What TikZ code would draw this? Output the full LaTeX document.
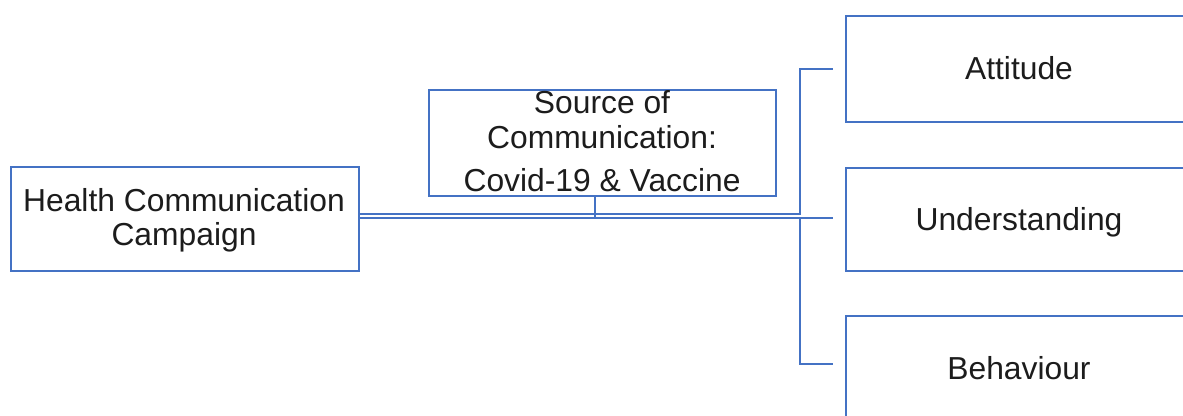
\documentclass[tikz,border=0pt]{standalone}
\usepackage{fontspec}
\setmainfont{Liberation Sans}
\definecolor{lb}{HTML}{4472C4}
\definecolor{tx}{HTML}{1C1C1C}
\begin{document}
\begin{tikzpicture}[x=1pt,y=-1pt,
  box/.style={draw=lb,line width=1.8pt,inner sep=0pt,anchor=north west},
  txt/.style={font=\fontsize{31.8}{32}\selectfont,text=tx,anchor=base,inner sep=0pt},
  conn/.style={draw=lb,line width=1.6pt}]
\useasboundingbox (0,0) rectangle (1183,415);
\clip (0,0) rectangle (1183,415);
% boxes
\node[box,minimum width=348pt,minimum height=104pt] (hcc) at (10,166) {};
\node[box,minimum width=347pt,minimum height=106pt] (src) at (428,89) {};
\node[box,minimum width=350pt,minimum height=106pt] (att) at (845,15) {};
\node[box,minimum width=350pt,minimum height=103pt] (und) at (845,167) {};
\node[box,minimum width=350pt,minimum height=106pt] (beh) at (845,315) {};
% texts
\node[txt] (t1) at (184,211) {Health Communication};
\node[txt] (t2) at (184,245) {Campaign};
\node[txt] (t3) at (602,113) {Source of};
\node[txt] (t4) at (602,148) {Communication:};
\node[txt] (t5) at (602,191) {Covid-19 \& Vaccine};
\node[txt] (t6) at (1019,79) {Attitude};
\node[txt] (t7) at (1019,230) {Understanding};
\node[txt] (t8) at (1019,379) {Behaviour};
% connectors
\coordinate (ju) at (800,214);
\coordinate (jl) at (800,218);
\coordinate (jb) at (800,364);
\draw[conn] (hcc.east |- ju) -- (ju) |- ([xshift=-12pt]att.west);
\draw[conn] (hcc.east |- jl) -- ([xshift=-12pt]und.west |- jl);
\draw[conn] (src.south -| 595,0) -- (595,218);
\draw[conn] (jl) -- (jb) -- ([xshift=-12pt]beh.west |- jb);
\end{tikzpicture}
\end{document}
